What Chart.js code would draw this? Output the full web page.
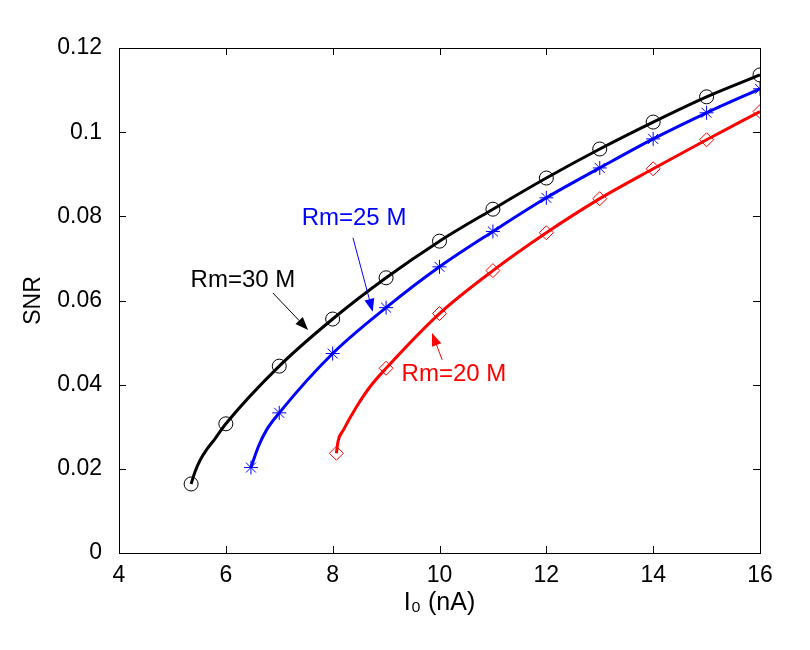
<!DOCTYPE html>
<html>
<head>
<meta charset="utf-8">
<script src="https://cdn.jsdelivr.net/npm/chart.js@4"></script>
<style>
  body { margin: 0; background: #fff; }
</style>
</head>
<body>
<canvas id="myChart" width="810" height="650"></canvas>
<script>
// marker values
const xBlack = [5.35, 6, 7, 8, 9, 10, 11, 12, 13, 14, 15, 16];
const yBlack = [0.0164, 0.0307, 0.0444, 0.0556, 0.0654, 0.0741, 0.0817, 0.0891, 0.096, 0.1024, 0.1084, 0.1136];
const xBlue = [6.47, 7, 8, 9, 10, 11, 12, 13, 14, 15, 16];
const yBlue = [0.0203, 0.0333, 0.0474, 0.0583, 0.068, 0.0764, 0.0844, 0.0915, 0.0984, 0.1046, 0.1103];
const xRed = [8.07, 9, 10, 11, 12, 13, 14, 15, 16];
const yRed = [0.0237, 0.0439, 0.0569, 0.0671, 0.0761, 0.0842, 0.0913, 0.0982, 0.1049];

// extra points read along the steep start of each curve
const curveBlackX = [5.35, 5.42, 5.52, 5.66, 5.8, 6, 7, 8, 9, 10, 11, 12, 13, 14, 15, 16];
const curveBlackY = [0.0164, 0.0192, 0.0221, 0.0249, 0.0272, 0.0307, 0.0444, 0.0556, 0.0654, 0.0741, 0.0817, 0.0891, 0.096, 0.1024, 0.1084, 0.1136];
const curveBlueX = [6.47, 6.61, 6.76, 7, 8, 9, 10, 11, 12, 13, 14, 15, 16];
const curveBlueY = [0.0203, 0.0253, 0.0292, 0.0333, 0.0474, 0.0583, 0.068, 0.0764, 0.0844, 0.0915, 0.0984, 0.1046, 0.1103];
const curveRedX = [8.07, 8.1, 8.2, 8.45, 8.7, 9, 10, 11, 12, 13, 14, 15, 16];
const curveRedY = [0.0237, 0.0265, 0.0292, 0.0348, 0.0395, 0.0439, 0.0569, 0.0671, 0.0761, 0.0842, 0.0913, 0.0982, 0.1049];

const xTicks = [4, 6, 8, 10, 12, 14, 16];
const yTicks = [0, 0.02, 0.04, 0.06, 0.08, 0.1, 0.12];

// labels with arrows: text position, arrow start, arrow tip (data units)
const labels = [
  { text: 'Rm=30 M', color: '#000000', tx: 6.32, ty: 0.0649, x0: 6.88, y0: 0.0618, x1: 7.54, y1: 0.053 },
  { text: 'Rm=25 M', color: '#0000ff', tx: 8.40, ty: 0.0794, x0: 8.38, y0: 0.0749, x1: 8.75, y1: 0.0573 },
  { text: 'Rm=20 M', color: '#ff0000', tx: 10.27, ty: 0.0425, x0: 10.05, y0: 0.0459, x1: 9.86, y1: 0.0523 }
];

function pts(xs, ys) {
  return xs.map((x, i) => ({ x: x, y: ys[i] }));
}

const FONT = 'Arial, "Liberation Sans", sans-serif';

// box with inward ticks + annotations
const boxPlugin = {
  id: 'box',
  afterDatasetsDraw(chart) {
    const c = chart.ctx;
    const a = chart.chartArea;
    const xs = chart.scales.x, ys = chart.scales.y;
    c.save();
    c.strokeStyle = '#000';
    c.lineWidth = 1;
    c.strokeRect(a.left + 0.5, a.top + 0.5, a.right - a.left, a.bottom - a.top);
    c.beginPath();
    xTicks.forEach(v => {
      const p = Math.round(xs.getPixelForValue(v)) + 0.5;
      c.moveTo(p, a.bottom); c.lineTo(p, a.bottom - 7);
      c.moveTo(p, a.top); c.lineTo(p, a.top + 7);
    });
    yTicks.forEach(v => {
      const p = Math.round(ys.getPixelForValue(v)) + 0.5;
      c.moveTo(a.left, p); c.lineTo(a.left + 7, p);
      c.moveTo(a.right, p); c.lineTo(a.right - 7, p);
    });
    c.stroke();

    labels.forEach(l => {
      c.fillStyle = l.color;
      c.strokeStyle = l.color;
      c.font = '24px ' + FONT;
      c.textAlign = 'center';
      c.textBaseline = 'middle';
      c.fillText(l.text, xs.getPixelForValue(l.tx), ys.getPixelForValue(l.ty));
      const px0 = xs.getPixelForValue(l.x0), py0 = ys.getPixelForValue(l.y0);
      const px1 = xs.getPixelForValue(l.x1), py1 = ys.getPixelForValue(l.y1);
      const ang = Math.atan2(py1 - py0, px1 - px0);
      const hl = 13, hw = 5;
      const bx = px1 - hl * Math.cos(ang), by = py1 - hl * Math.sin(ang);
      c.beginPath();
      c.moveTo(px0, py0); c.lineTo(bx, by);
      c.lineWidth = 1;
      c.stroke();
      c.beginPath();
      c.moveTo(px1, py1);
      c.lineTo(bx + hw * Math.sin(ang), by - hw * Math.cos(ang));
      c.lineTo(bx - hw * Math.sin(ang), by + hw * Math.cos(ang));
      c.closePath();
      c.fill();
    });
    c.restore();
  }
};

const ctx = document.getElementById('myChart').getContext('2d');
const myChart = new Chart(ctx, {
  type: 'scatter',
  data: {
    datasets: [
      { data: pts(curveBlackX, curveBlackY), showLine: true, borderColor: '#000000', borderWidth: 3, pointRadius: 0, cubicInterpolationMode: 'monotone' },
      { data: pts(curveBlueX, curveBlueY), showLine: true, borderColor: '#0000ff', borderWidth: 3, pointRadius: 0, cubicInterpolationMode: 'monotone' },
      { data: pts(curveRedX, curveRedY), showLine: true, borderColor: '#ff0000', borderWidth: 3, pointRadius: 0, cubicInterpolationMode: 'monotone' },
      { data: pts(xBlack, yBlack), pointStyle: 'circle', pointRadius: 7, borderColor: '#000000', backgroundColor: 'rgba(0,0,0,0)', borderWidth: 1 },
      { data: pts(xBlue, yBlue), pointStyle: 'star', pointRadius: 7, borderColor: '#0000ff', backgroundColor: 'rgba(0,0,0,0)', borderWidth: 1 },
      { data: pts(xRed, yRed), pointStyle: 'rectRot', pointRadius: 7, borderColor: '#ff0000', backgroundColor: 'rgba(0,0,0,0)', borderWidth: 1 }
    ]
  },
  options: {
    responsive: false,
    animation: false,
    layout: { padding: { top: 48, right: 50, left: 0, bottom: 0 } },
    plugins: { legend: { display: false }, tooltip: { enabled: false } },
    scales: {
      x: {
        type: 'linear', min: 4, max: 16,
        afterBuildTicks: s => { s.ticks = xTicks.map(v => ({ value: v })); },
        afterFit: s => { s.height = 650 - 553; },
        grid: { display: false, drawTicks: false },
        border: { display: false },
        ticks: { color: '#000', font: { size: 23, family: FONT }, padding: 9, maxRotation: 0 },
        title: { display: true, text: 'I\u2080 (nA)', color: '#000', font: { size: 25, family: FONT }, padding: { top: 0, bottom: 32 } }
      },
      y: {
        type: 'linear', min: 0, max: 0.12,
        afterBuildTicks: s => { s.ticks = yTicks.map(v => ({ value: v })); },
        afterFit: s => { s.width = 119; },
        grid: { display: false, drawTicks: false },
        border: { display: false },
        ticks: { color: '#000', font: { size: 23, family: FONT }, padding: 17, callback: v => String(+v.toFixed(2)) },
        title: { display: true, text: 'SNR', color: '#000', font: { size: 23, family: FONT }, padding: { top: 20, bottom: 0 } }
      }
    }
  },
  plugins: [boxPlugin]
});
</script>
</body>
</html>
